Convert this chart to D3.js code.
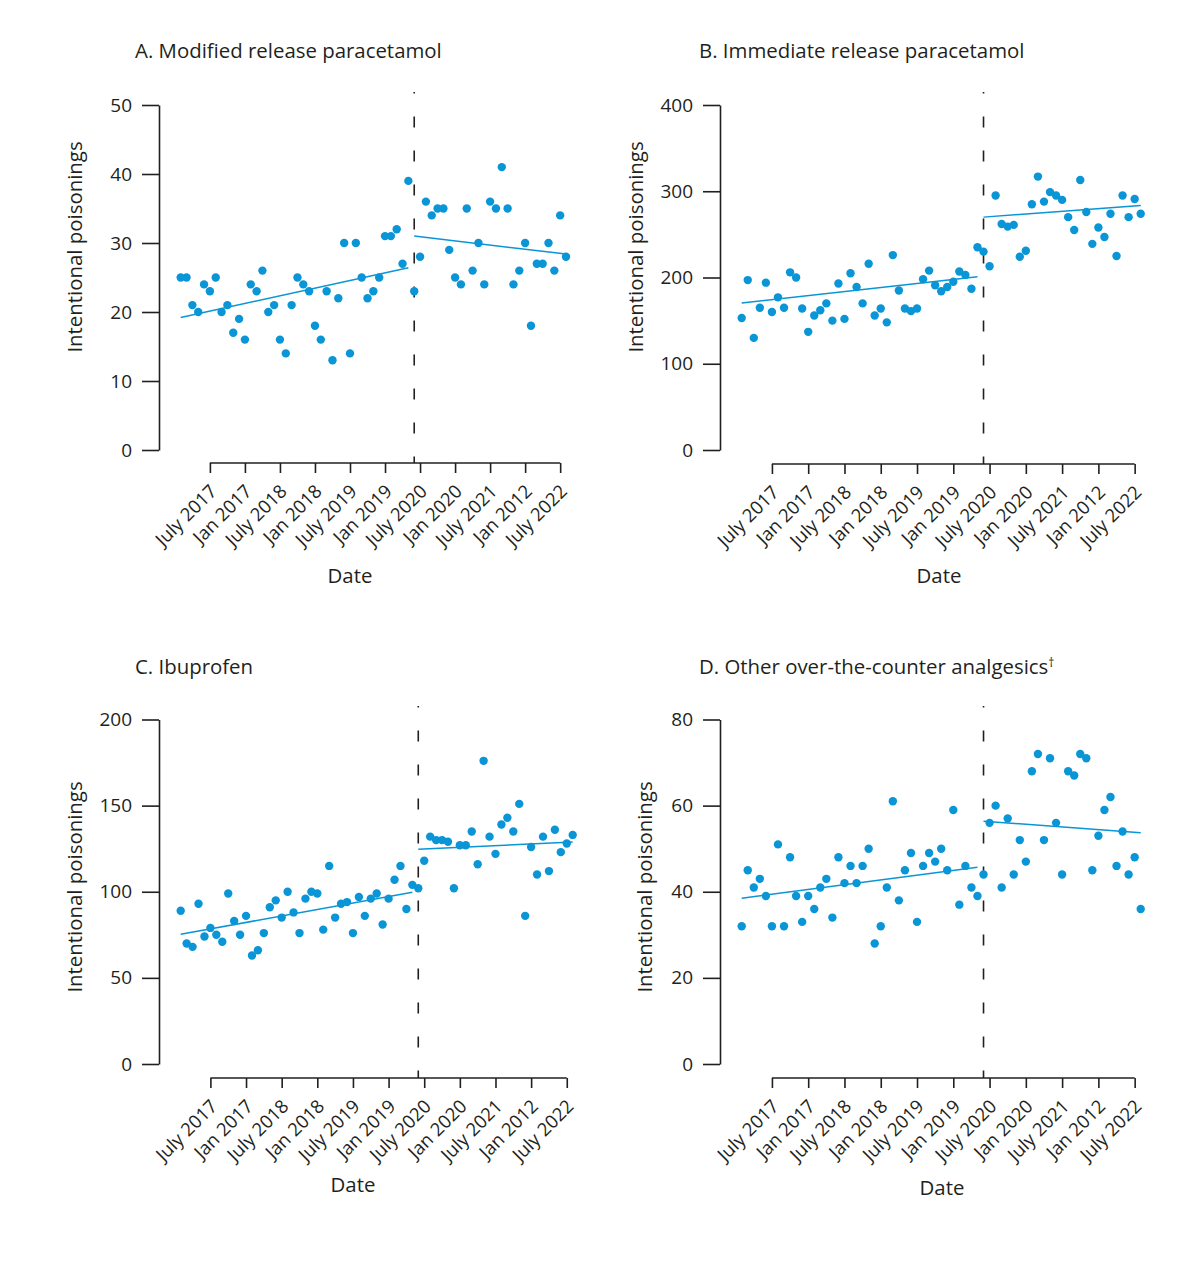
<!DOCTYPE html>
<html>
<head>
<meta charset="utf-8">
<script src="https://cdn.jsdelivr.net/npm/d3@7"></script>
<style>
  body { margin: 0; background: #fff; }
  svg text { font-family: "Open Sans", sans-serif; fill: #231f20; }
</style>
</head>
<body>
<svg id="chart" width="1200" height="1276"></svg>
<script>
// month index 0..66, intervention at index 40
const tickIndex = [5, 11, 17, 23, 29, 35, 41, 47, 53, 59, 65]
const tickLabels = ["July 2017", "Jan 2017", "July 2018", "Jan 2018", "July 2019", "Jan 2019",
                    "July 2020", "Jan 2020", "July 2021", "Jan 2012", "July 2022"]
const breakIndex = 40

const modifiedRelease = [25, 25, 21, 20, 24, 23, 25, 20, 21, 17, 19, 16, 24, 23, 26, 20, 21, 16, 14, 21,
  25, 24, 23, 18, 16, 23, 13, 22, 30, 14, 30, 25, 22, 23, 25, 31, 31, 32, 27, 39,
  23, 28, 36, 34, 35, 35, 29, 25, 24, 35, 26, 30, 24, 36, 35, 41, 35, 24, 26, 30,
  18, 27, 27, 30, 26, 34, 28]
const immediateRelease = [153, 197, 130, 165, 194, 160, 177, 165, 206, 200, 164, 137, 156, 162, 170, 150, 193, 152, 205, 189,
  170, 216, 156, 164, 148, 226, 185, 164, 161, 164, 198, 208, 191, 184, 189, 195, 207, 203, 187, 235,
  230, 213, 295, 262, 259, 261, 224, 231, 285, 317, 288, 299, 295, 290, 270, 255, 313, 276, 239, 258,
  247, 274, 225, 295, 270, 291, 274]
const ibuprofen = [89, 70, 68, 93, 74, 79, 75, 71, 99, 83, 75, 86, 63, 66, 76, 91, 95, 85, 100, 88,
  76, 96, 100, 99, 78, 115, 85, 93, 94, 76, 97, 86, 96, 99, 81, 96, 107, 115, 90, 104,
  102, 118, 132, 130, 130, 129, 102, 127, 127, 135, 116, 176, 132, 122, 139, 143, 135, 151, 86, 126,
  110, 132, 112, 136, 123, 128, 133]
const otherAnalgesics = [32, 45, 41, 43, 39, 32, 51, 32, 48, 39, 33, 39, 36, 41, 43, 34, 48, 42, 46, 42,
  46, 50, 28, 32, 41, 61, 38, 45, 49, 33, 46, 49, 47, 50, 45, 59, 37, 46, 41, 39,
  44, 56, 60, 41, 57, 44, 52, 47, 68, 72, 52, 71, 56, 44, 68, 67, 72, 71, 45, 53,
  59, 62, 46, 54, 44, 48, 36]

// fitted segments: [start index, value], [end index, value]
const trendModified = [[[0, 19.2], [39, 26.4]], [[40, 31.0], [66, 28.4]]]
const trendImmediate = [[[0, 170.4], [39, 201]], [[40, 270], [66, 283.4]]]
const trendIbuprofen = [[[0, 75.3], [39, 99.7]], [[40, 124.7], [66, 128.9]]]
const trendOther = [[[0, 38.5], [39, 45.7]], [[40, 56.4], [66, 53.7]]]

const panels = [
  { title: "A. Modified release paracetamol", values: modifiedRelease, trend: trendModified,
    yMax: 50, yStep: 10, axisX: 159, yRange: [450, 105], xRange: [180.7, 566], xAxisY: 463, dashTop: 92,
    titleX: 135, titleY: 58, yLabelX: 82, yLabelY: 247, dateX: 350, dateY: 583 },
  { title: "B. Immediate release paracetamol", values: immediateRelease, trend: trendImmediate,
    yMax: 400, yStep: 100, axisX: 720, yRange: [450, 105], xRange: [741.7, 1140.7], xAxisY: 464, dashTop: 92,
    titleX: 699, titleY: 58, yLabelX: 643, yLabelY: 247, dateX: 939, dateY: 583 },
  { title: "C. Ibuprofen", values: ibuprofen, trend: trendIbuprofen,
    yMax: 200, yStep: 50, axisX: 159, yRange: [1064, 719.5], xRange: [180.7, 572.7], xAxisY: 1078, dashTop: 706,
    titleX: 135, titleY: 674, yLabelX: 82, yLabelY: 887, dateX: 353, dateY: 1192 },
  { title: "D. Other over-the-counter analgesics", sup: "†", values: otherAnalgesics, trend: trendOther,
    yMax: 80, yStep: 20, axisX: 720, yRange: [1064, 719.5], xRange: [741.7, 1140.7], xAxisY: 1078, dashTop: 706,
    titleX: 699, titleY: 674, yLabelX: 652, yLabelY: 887, dateX: 942, dateY: 1195 }
]

const blue = "#0a95d6"
const ink = "#231f20"
const svg = d3.select("#chart")

panels.forEach(function (p) {
  let g = svg.append("g")
  let x = d3.scaleLinear().domain([0, p.values.length - 1]).range(p.xRange)
  let y = d3.scaleLinear().domain([0, p.yMax]).range(p.yRange)

  // title
  let t = g.append("text")
    .attr("x", p.titleX).attr("y", p.titleY)
    .style("font-size", "20.4px")
    .text(p.title)
  if (p.sup) {
    t.append("tspan").attr("dy", -7).style("font-size", "12px").text(p.sup)
  }

  // y axis
  let yAxis = d3.axisLeft(y)
    .tickValues(d3.range(0, p.yMax + 1, p.yStep))
    .tickSize(17).tickPadding(10).tickSizeOuter(0)
  let ya = g.append("g").attr("transform", `translate(${p.axisX},0)`).call(yAxis)
  ya.select(".domain").attr("stroke", ink).attr("stroke-width", 1.6)
  ya.selectAll(".tick line").attr("stroke", ink).attr("stroke-width", 1.6)
  ya.selectAll(".tick text").style("font-size", "19px").attr("fill", ink)
    .style("font-family", "'Open Sans', sans-serif")

  g.append("text")
    .attr("transform", `translate(${p.yLabelX},${p.yLabelY}) rotate(-90)`)
    .attr("text-anchor", "middle")
    .style("font-size", "20.4px")
    .text("Intentional poisonings")

  // x axis (offset, spans first to last tick)
  let xAxis = d3.axisBottom(x)
    .tickValues(tickIndex)
    .tickFormat((d, i) => tickLabels[i])
    .tickSize(10).tickSizeOuter(0)
  let xa = g.append("g").attr("transform", `translate(0,${p.xAxisY})`).call(xAxis)
  xa.select(".domain").attr("stroke", ink).attr("stroke-width", 1.6)
    .attr("d", `M${x(tickIndex[0])},0H${x(tickIndex[tickIndex.length - 1])}`)
  xa.selectAll(".tick line").attr("stroke", ink).attr("stroke-width", 1.6)
  xa.selectAll(".tick text")
    .style("font-size", "18.5px").attr("fill", ink)
    .style("font-family", "'Open Sans', sans-serif")
    .attr("text-anchor", "end")
    .attr("y", 0).attr("dy", "0.35em")
    .attr("transform", "translate(3,25) rotate(-45)")

  g.append("text")
    .attr("x", p.dateX).attr("y", p.dateY)
    .attr("text-anchor", "middle")
    .style("font-size", "20.4px")
    .text("Date")

  // intervention line
  g.append("line")
    .attr("x1", x(breakIndex)).attr("x2", x(breakIndex))
    .attr("y1", p.dashTop).attr("y2", p.xAxisY)
    .attr("stroke", ink).attr("stroke-width", 1.6)
    .attr("stroke-dasharray", "11 23").attr("stroke-dashoffset", 9.5)

  // trend segments
  let line = d3.line().x(d => x(d[0])).y(d => y(d[1]))
  g.selectAll(".trend").data(p.trend).enter()
    .append("path")
      .attr("class", "trend")
      .attr("d", line)
      .attr("fill", "none")
      .attr("stroke", blue)
      .attr("stroke-width", 1.5)

  // monthly counts
  g.selectAll(".pt").data(p.values).enter()
    .append("circle")
      .attr("class", "pt")
      .attr("cx", (d, i) => x(i))
      .attr("cy", d => y(d))
      .attr("r", 4.2)
      .attr("fill", blue)
})
</script>
</body>
</html>
